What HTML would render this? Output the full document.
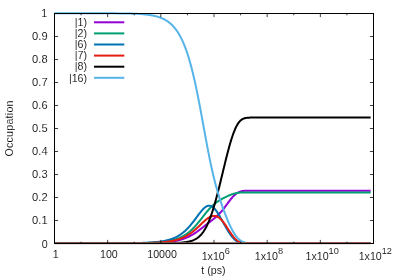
<!DOCTYPE html>
<html><head><meta charset="utf-8"><title>plot</title>
<style>
html,body{margin:0;padding:0;background:#fff;}
svg{display:block;}
text{font-family:"Liberation Sans",sans-serif;font-size:10.67px;fill:#000;stroke:#fff;stroke-width:0.1px;paint-order:fill stroke;}
</style></head><body>
<svg style="will-change:transform" width="399" height="279" viewBox="0 0 399 279">
<rect width="399" height="279" fill="#fff"/>
<clipPath id="cp"><rect x="54" y="12" width="320" height="232"/></clipPath>
<g clip-path="url(#cp)">
<path d="M54.50,243.25 L59.50,243.25 L64.50,243.25 L69.50,243.25 L74.50,243.25 L79.50,243.25 L84.50,243.25 L89.50,243.25 L94.50,243.25 L99.50,243.25 L104.50,243.24 L109.50,243.24 L114.50,243.24 L119.50,243.23 L124.50,243.22 L129.50,243.20 L130.00,243.20 L130.50,243.20 L131.00,243.20 L131.50,243.20 L132.00,243.19 L132.50,243.19 L133.00,243.19 L133.50,243.18 L134.00,243.18 L134.50,243.18 L135.00,243.18 L135.50,243.17 L136.00,243.17 L136.50,243.17 L137.00,243.16 L137.50,243.16 L138.00,243.15 L138.50,243.15 L139.00,243.15 L139.50,243.14 L140.00,243.14 L140.50,243.13 L141.00,243.13 L141.50,243.12 L142.00,243.11 L142.50,243.11 L143.00,243.10 L143.50,243.10 L144.00,243.09 L144.50,243.08 L145.00,243.07 L145.50,243.07 L146.00,243.06 L146.50,243.05 L147.00,243.04 L147.50,243.03 L148.00,243.02 L148.50,243.01 L149.00,243.00 L149.50,242.99 L150.00,242.98 L150.50,242.97 L151.00,242.95 L151.50,242.94 L152.00,242.93 L152.50,242.91 L153.00,242.90 L153.50,242.88 L154.00,242.87 L154.50,242.85 L155.00,242.83 L155.50,242.82 L156.00,242.80 L156.50,242.78 L157.00,242.76 L157.50,242.73 L158.00,242.71 L158.50,242.69 L159.00,242.66 L159.50,242.64 L160.00,242.61 L160.50,242.58 L161.00,242.55 L161.50,242.52 L162.00,242.49 L162.50,242.46 L163.00,242.42 L163.50,242.39 L164.00,242.35 L164.50,242.31 L165.00,242.27 L165.50,242.23 L166.00,242.19 L166.50,242.14 L167.00,242.09 L167.50,242.04 L168.00,241.99 L168.50,241.94 L169.00,241.88 L169.50,241.82 L170.00,241.76 L170.50,241.70 L171.00,241.63 L171.50,241.56 L172.00,241.49 L172.50,241.41 L173.00,241.34 L173.50,241.26 L174.00,241.17 L174.50,241.08 L175.00,240.99 L175.50,240.90 L176.00,240.80 L176.50,240.70 L177.00,240.59 L177.50,240.48 L178.00,240.37 L178.50,240.25 L179.00,240.13 L179.50,240.00 L180.00,239.87 L180.50,239.73 L181.00,239.59 L181.50,239.44 L182.00,239.29 L182.50,239.13 L183.00,238.96 L183.50,238.79 L184.00,238.62 L184.50,238.44 L185.00,238.25 L185.50,238.05 L186.00,237.85 L186.50,237.65 L187.00,237.43 L187.50,237.21 L188.00,236.99 L188.50,236.75 L189.00,236.51 L189.50,236.26 L190.00,236.01 L190.50,235.75 L191.00,235.48 L191.50,235.20 L192.00,234.92 L192.50,234.63 L193.00,234.34 L193.50,234.03 L194.00,233.72 L194.50,233.40 L195.00,233.08 L195.50,232.75 L196.00,232.42 L196.50,232.07 L197.00,231.73 L197.50,231.37 L198.00,231.01 L198.50,230.65 L199.00,230.28 L199.50,229.91 L200.00,229.54 L200.50,229.16 L201.00,228.77 L201.50,228.39 L202.00,228.00 L202.50,227.61 L203.00,227.22 L203.50,226.83 L204.00,226.43 L204.50,226.04 L205.00,225.65 L205.50,225.25 L206.00,224.86 L206.50,224.47 L207.00,224.08 L207.50,223.69 L208.00,223.30 L208.50,222.91 L209.00,222.52 L209.50,222.14 L210.00,221.75 L210.50,221.36 L211.00,220.98 L211.50,220.59 L212.00,220.20 L212.50,219.81 L213.00,219.41 L213.50,219.01 L214.00,218.61 L214.50,218.20 L215.00,217.78 L215.50,217.36 L216.00,216.93 L216.50,216.49 L217.00,216.03 L217.50,215.57 L218.00,215.09 L218.50,214.60 L219.00,214.10 L219.50,213.58 L220.00,213.05 L220.50,212.50 L221.00,211.93 L221.50,211.36 L222.00,210.76 L222.50,210.16 L223.00,209.54 L223.50,208.90 L224.00,208.26 L224.50,207.60 L225.00,206.94 L225.50,206.27 L226.00,205.59 L226.50,204.91 L227.00,204.23 L227.50,203.55 L228.00,202.87 L228.50,202.20 L229.00,201.53 L229.50,200.87 L230.00,200.22 L230.50,199.58 L231.00,198.96 L231.50,198.35 L232.00,197.76 L232.50,197.19 L233.00,196.65 L233.50,196.12 L234.00,195.62 L234.50,195.15 L235.00,194.70 L235.50,194.28 L236.00,193.89 L236.50,193.52 L237.00,193.18 L237.50,192.86 L238.00,192.58 L238.50,192.31 L239.00,192.08 L239.50,191.87 L240.00,191.68 L240.50,191.51 L241.00,191.37 L241.50,191.24 L242.00,191.13 L242.50,191.04 L243.00,190.96 L243.50,190.89 L244.00,190.84 L244.50,190.80 L245.00,190.76 L245.50,190.74 L246.00,190.72 L246.50,190.70 L247.00,190.69 L247.50,190.69 L248.00,190.68 L248.50,190.68 L249.00,190.68 L249.50,190.68 L250.00,190.68 L250.50,190.68 L251.00,190.68 L251.50,190.69 L252.00,190.69 L252.50,190.69 L253.00,190.69 L253.50,190.69 L254.00,190.69 L254.50,190.70 L255.00,190.70 L255.50,190.70 L256.00,190.70 L256.50,190.70 L257.00,190.70 L257.50,190.70 L258.00,190.70 L258.50,190.70 L259.00,190.70 L259.50,190.70 L260.00,190.70 L260.50,190.70 L261.00,190.70 L261.50,190.70 L262.00,190.70 L262.50,190.70 L263.00,190.70 L263.50,190.70 L264.00,190.70 L264.50,190.70 L265.00,190.70 L265.50,190.70 L266.00,190.70 L266.50,190.70 L267.00,190.70 L267.50,190.70 L268.00,190.70 L268.50,190.70 L269.00,190.70 L269.50,190.70 L270.00,190.70 L280.00,190.70 L290.00,190.70 L300.00,190.70 L310.00,190.70 L320.00,190.70 L330.00,190.70 L340.00,190.70 L350.00,190.70 L360.00,190.70 L370.00,190.70 L370.60,190.70" fill="none" stroke="#9400d3" stroke-width="2" stroke-linejoin="round" stroke-linecap="butt"/>
<path d="M54.50,243.25 L59.50,243.25 L64.50,243.25 L69.50,243.25 L74.50,243.25 L79.50,243.25 L84.50,243.25 L89.50,243.25 L94.50,243.25 L99.50,243.24 L104.50,243.24 L109.50,243.24 L114.50,243.23 L119.50,243.22 L124.50,243.20 L129.50,243.17 L130.00,243.17 L130.50,243.17 L131.00,243.16 L131.50,243.16 L132.00,243.16 L132.50,243.15 L133.00,243.15 L133.50,243.14 L134.00,243.14 L134.50,243.13 L135.00,243.13 L135.50,243.12 L136.00,243.12 L136.50,243.11 L137.00,243.10 L137.50,243.10 L138.00,243.09 L138.50,243.08 L139.00,243.08 L139.50,243.07 L140.00,243.06 L140.50,243.05 L141.00,243.04 L141.50,243.04 L142.00,243.03 L142.50,243.02 L143.00,243.01 L143.50,242.99 L144.00,242.98 L144.50,242.97 L145.00,242.96 L145.50,242.95 L146.00,242.93 L146.50,242.92 L147.00,242.90 L147.50,242.89 L148.00,242.87 L148.50,242.86 L149.00,242.84 L149.50,242.82 L150.00,242.80 L150.50,242.78 L151.00,242.76 L151.50,242.74 L152.00,242.72 L152.50,242.70 L153.00,242.67 L153.50,242.65 L154.00,242.62 L154.50,242.59 L155.00,242.56 L155.50,242.53 L156.00,242.50 L156.50,242.47 L157.00,242.43 L157.50,242.40 L158.00,242.36 L158.50,242.32 L159.00,242.28 L159.50,242.24 L160.00,242.20 L160.50,242.15 L161.00,242.10 L161.50,242.05 L162.00,242.00 L162.50,241.95 L163.00,241.89 L163.50,241.83 L164.00,241.77 L164.50,241.70 L165.00,241.64 L165.50,241.57 L166.00,241.49 L166.50,241.42 L167.00,241.34 L167.50,241.26 L168.00,241.17 L168.50,241.08 L169.00,240.99 L169.50,240.89 L170.00,240.79 L170.50,240.69 L171.00,240.58 L171.50,240.46 L172.00,240.34 L172.50,240.22 L173.00,240.09 L173.50,239.96 L174.00,239.82 L174.50,239.67 L175.00,239.52 L175.50,239.37 L176.00,239.20 L176.50,239.04 L177.00,238.86 L177.50,238.68 L178.00,238.49 L178.50,238.29 L179.00,238.09 L179.50,237.88 L180.00,237.66 L180.50,237.43 L181.00,237.19 L181.50,236.95 L182.00,236.69 L182.50,236.43 L183.00,236.16 L183.50,235.88 L184.00,235.58 L184.50,235.28 L185.00,234.97 L185.50,234.65 L186.00,234.31 L186.50,233.97 L187.00,233.61 L187.50,233.25 L188.00,232.87 L188.50,232.48 L189.00,232.08 L189.50,231.67 L190.00,231.24 L190.50,230.81 L191.00,230.36 L191.50,229.90 L192.00,229.43 L192.50,228.94 L193.00,228.45 L193.50,227.94 L194.00,227.42 L194.50,226.89 L195.00,226.35 L195.50,225.80 L196.00,225.24 L196.50,224.67 L197.00,224.09 L197.50,223.50 L198.00,222.90 L198.50,222.29 L199.00,221.68 L199.50,221.06 L200.00,220.43 L200.50,219.80 L201.00,219.17 L201.50,218.53 L202.00,217.89 L202.50,217.25 L203.00,216.61 L203.50,215.97 L204.00,215.33 L204.50,214.70 L205.00,214.07 L205.50,213.44 L206.00,212.82 L206.50,212.20 L207.00,211.60 L207.50,211.00 L208.00,210.41 L208.50,209.84 L209.00,209.27 L209.50,208.72 L210.00,208.18 L210.50,207.65 L211.00,207.14 L211.50,206.64 L212.00,206.15 L212.50,205.68 L213.00,205.22 L213.50,204.78 L214.00,204.35 L214.50,203.94 L215.00,203.53 L215.50,203.14 L216.00,202.76 L216.50,202.40 L217.00,202.04 L217.50,201.70 L218.00,201.36 L218.50,201.03 L219.00,200.72 L219.50,200.40 L220.00,200.10 L220.50,199.80 L221.00,199.51 L221.50,199.22 L222.00,198.94 L222.50,198.66 L223.00,198.39 L223.50,198.12 L224.00,197.86 L224.50,197.60 L225.00,197.34 L225.50,197.09 L226.00,196.84 L226.50,196.60 L227.00,196.36 L227.50,196.13 L228.00,195.90 L228.50,195.68 L229.00,195.46 L229.50,195.25 L230.00,195.05 L230.50,194.85 L231.00,194.66 L231.50,194.48 L232.00,194.30 L232.50,194.13 L233.00,193.97 L233.50,193.82 L234.00,193.67 L234.50,193.54 L235.00,193.41 L235.50,193.29 L236.00,193.18 L236.50,193.08 L237.00,192.99 L237.50,192.91 L238.00,192.83 L238.50,192.77 L239.00,192.71 L239.50,192.65 L240.00,192.61 L240.50,192.57 L241.00,192.54 L241.50,192.51 L242.00,192.49 L242.50,192.47 L243.00,192.46 L243.50,192.45 L244.00,192.44 L244.50,192.44 L245.00,192.44 L245.50,192.44 L246.00,192.44 L246.50,192.44 L247.00,192.45 L247.50,192.45 L248.00,192.45 L248.50,192.46 L249.00,192.46 L249.50,192.47 L250.00,192.47 L250.50,192.48 L251.00,192.48 L251.50,192.48 L252.00,192.49 L252.50,192.49 L253.00,192.49 L253.50,192.49 L254.00,192.49 L254.50,192.50 L255.00,192.50 L255.50,192.50 L256.00,192.50 L256.50,192.50 L257.00,192.50 L257.50,192.50 L258.00,192.50 L258.50,192.50 L259.00,192.50 L259.50,192.50 L260.00,192.50 L260.50,192.50 L261.00,192.50 L261.50,192.50 L262.00,192.50 L262.50,192.50 L263.00,192.50 L263.50,192.50 L264.00,192.50 L264.50,192.50 L265.00,192.50 L265.50,192.50 L266.00,192.50 L266.50,192.50 L267.00,192.50 L267.50,192.50 L268.00,192.50 L268.50,192.50 L269.00,192.50 L269.50,192.50 L270.00,192.50 L280.00,192.50 L290.00,192.50 L300.00,192.50 L310.00,192.50 L320.00,192.50 L330.00,192.50 L340.00,192.50 L350.00,192.50 L360.00,192.50 L370.00,192.50 L370.60,192.50" fill="none" stroke="#009e73" stroke-width="2" stroke-linejoin="round" stroke-linecap="butt"/>
<path d="M54.50,243.25 L59.50,243.25 L64.50,243.25 L69.50,243.25 L74.50,243.25 L79.50,243.25 L84.50,243.25 L89.50,243.25 L94.50,243.24 L99.50,243.24 L104.50,243.24 L109.50,243.23 L114.50,243.22 L119.50,243.20 L124.50,243.17 L129.50,243.13 L130.00,243.13 L130.50,243.12 L131.00,243.12 L131.50,243.11 L132.00,243.10 L132.50,243.10 L133.00,243.09 L133.50,243.08 L134.00,243.08 L134.50,243.07 L135.00,243.06 L135.50,243.05 L136.00,243.04 L136.50,243.04 L137.00,243.03 L137.50,243.02 L138.00,243.01 L138.50,243.00 L139.00,242.98 L139.50,242.97 L140.00,242.96 L140.50,242.95 L141.00,242.93 L141.50,242.92 L142.00,242.91 L142.50,242.89 L143.00,242.87 L143.50,242.86 L144.00,242.84 L144.50,242.82 L145.00,242.80 L145.50,242.78 L146.00,242.76 L146.50,242.74 L147.00,242.72 L147.50,242.70 L148.00,242.67 L148.50,242.65 L149.00,242.62 L149.50,242.59 L150.00,242.56 L150.50,242.53 L151.00,242.50 L151.50,242.47 L152.00,242.43 L152.50,242.40 L153.00,242.36 L153.50,242.32 L154.00,242.28 L154.50,242.24 L155.00,242.20 L155.50,242.15 L156.00,242.10 L156.50,242.05 L157.00,242.00 L157.50,241.94 L158.00,241.89 L158.50,241.83 L159.00,241.77 L159.50,241.70 L160.00,241.63 L160.50,241.56 L161.00,241.49 L161.50,241.41 L162.00,241.33 L162.50,241.25 L163.00,241.17 L163.50,241.08 L164.00,240.98 L164.50,240.88 L165.00,240.78 L165.50,240.68 L166.00,240.57 L166.50,240.45 L167.00,240.33 L167.50,240.21 L168.00,240.08 L168.50,239.94 L169.00,239.80 L169.50,239.65 L170.00,239.50 L170.50,239.34 L171.00,239.18 L171.50,239.01 L172.00,238.83 L172.50,238.64 L173.00,238.45 L173.50,238.25 L174.00,238.04 L174.50,237.82 L175.00,237.60 L175.50,237.37 L176.00,237.12 L176.50,236.87 L177.00,236.61 L177.50,236.34 L178.00,236.06 L178.50,235.77 L179.00,235.47 L179.50,235.16 L180.00,234.84 L180.50,234.50 L181.00,234.16 L181.50,233.80 L182.00,233.43 L182.50,233.05 L183.00,232.66 L183.50,232.25 L184.00,231.83 L184.50,231.40 L185.00,230.96 L185.50,230.50 L186.00,230.03 L186.50,229.54 L187.00,229.05 L187.50,228.53 L188.00,228.01 L188.50,227.47 L189.00,226.92 L189.50,226.36 L190.00,225.78 L190.50,225.20 L191.00,224.60 L191.50,223.99 L192.00,223.36 L192.50,222.73 L193.00,222.09 L193.50,221.44 L194.00,220.79 L194.50,220.12 L195.00,219.45 L195.50,218.78 L196.00,218.10 L196.50,217.42 L197.00,216.74 L197.50,216.06 L198.00,215.39 L198.50,214.72 L199.00,214.06 L199.50,213.40 L200.00,212.76 L200.50,212.12 L201.00,211.51 L201.50,210.91 L202.00,210.33 L202.50,209.77 L203.00,209.24 L203.50,208.74 L204.00,208.27 L204.50,207.82 L205.00,207.42 L205.50,207.05 L206.00,206.72 L206.50,206.43 L207.00,206.19 L207.50,205.99 L208.00,205.84 L208.50,205.74 L209.00,205.69 L209.50,205.70 L210.00,205.75 L210.50,205.86 L211.00,206.02 L211.50,206.24 L212.00,206.51 L212.50,206.83 L213.00,207.21 L213.50,207.63 L214.00,208.10 L214.50,208.63 L215.00,209.19 L215.50,209.80 L216.00,210.45 L216.50,211.14 L217.00,211.86 L217.50,212.61 L218.00,213.40 L218.50,214.20 L219.00,215.03 L219.50,215.88 L220.00,216.75 L220.50,217.63 L221.00,218.52 L221.50,219.42 L222.00,220.33 L222.50,221.24 L223.00,222.15 L223.50,223.05 L224.00,223.96 L224.50,224.86 L225.00,225.75 L225.50,226.63 L226.00,227.51 L226.50,228.37 L227.00,229.22 L227.50,230.05 L228.00,230.87 L228.50,231.66 L229.00,232.44 L229.50,233.20 L230.00,233.94 L230.50,234.66 L231.00,235.35 L231.50,236.02 L232.00,236.65 L232.50,237.27 L233.00,237.85 L233.50,238.40 L234.00,238.93 L234.50,239.42 L235.00,239.88 L235.50,240.31 L236.00,240.71 L236.50,241.08 L237.00,241.42 L237.50,241.72 L238.00,242.00 L238.50,242.25 L239.00,242.47 L239.50,242.66 L240.00,242.82 L240.50,242.97 L241.00,243.09 L241.50,243.19 L242.00,243.25 L242.50,243.25 L243.00,243.25 L243.50,243.25 L244.00,243.25 L244.50,243.25 L245.00,243.25 L245.50,243.25 L246.00,243.25 L246.50,243.25 L247.00,243.25 L247.50,243.25 L248.00,243.25 L248.50,243.25 L249.00,243.25 L249.50,243.25 L250.00,243.25 L250.50,243.25 L251.00,243.25 L251.50,243.25 L252.00,243.25 L252.50,243.25 L253.00,243.25 L253.50,243.25 L254.00,243.25 L254.50,243.25 L255.00,243.25 L255.50,243.25 L256.00,243.25 L256.50,243.25 L257.00,243.25 L257.50,243.25 L258.00,243.25 L258.50,243.25 L259.00,243.25 L259.50,243.25 L260.00,243.25 L260.50,243.25 L261.00,243.25 L261.50,243.25 L262.00,243.25 L262.50,243.25 L263.00,243.25 L263.50,243.25 L264.00,243.25 L264.50,243.25 L265.00,243.25 L265.50,243.25 L266.00,243.25 L266.50,243.25 L267.00,243.25 L267.50,243.25 L268.00,243.25 L268.50,243.25 L269.00,243.25 L269.50,243.25 L270.00,243.25 L280.00,243.25 L290.00,243.25 L300.00,243.25 L310.00,243.25 L320.00,243.25 L330.00,243.25 L340.00,243.25 L350.00,243.25 L360.00,243.25 L370.00,243.25 L370.60,243.25" fill="none" stroke="#0072b2" stroke-width="2" stroke-linejoin="round" stroke-linecap="butt"/>
<path d="M54.50,243.25 L59.50,243.25 L64.50,243.25 L69.50,243.25 L74.50,243.25 L79.50,243.25 L84.50,243.25 L89.50,243.25 L94.50,243.25 L99.50,243.25 L104.50,243.24 L109.50,243.24 L114.50,243.23 L119.50,243.22 L124.50,243.21 L129.50,243.19 L130.00,243.19 L130.50,243.18 L131.00,243.18 L131.50,243.18 L132.00,243.17 L132.50,243.17 L133.00,243.17 L133.50,243.16 L134.00,243.16 L134.50,243.16 L135.00,243.15 L135.50,243.15 L136.00,243.14 L136.50,243.14 L137.00,243.13 L137.50,243.13 L138.00,243.12 L138.50,243.12 L139.00,243.11 L139.50,243.11 L140.00,243.10 L140.50,243.09 L141.00,243.09 L141.50,243.08 L142.00,243.07 L142.50,243.06 L143.00,243.06 L143.50,243.05 L144.00,243.04 L144.50,243.03 L145.00,243.02 L145.50,243.01 L146.00,243.00 L146.50,242.99 L147.00,242.97 L147.50,242.96 L148.00,242.95 L148.50,242.94 L149.00,242.92 L149.50,242.91 L150.00,242.89 L150.50,242.88 L151.00,242.86 L151.50,242.84 L152.00,242.83 L152.50,242.81 L153.00,242.79 L153.50,242.77 L154.00,242.75 L154.50,242.73 L155.00,242.70 L155.50,242.68 L156.00,242.65 L156.50,242.63 L157.00,242.60 L157.50,242.57 L158.00,242.54 L158.50,242.51 L159.00,242.48 L159.50,242.44 L160.00,242.41 L160.50,242.37 L161.00,242.33 L161.50,242.29 L162.00,242.25 L162.50,242.21 L163.00,242.16 L163.50,242.12 L164.00,242.07 L164.50,242.02 L165.00,241.96 L165.50,241.91 L166.00,241.85 L166.50,241.79 L167.00,241.73 L167.50,241.66 L168.00,241.59 L168.50,241.52 L169.00,241.45 L169.50,241.37 L170.00,241.29 L170.50,241.20 L171.00,241.12 L171.50,241.03 L172.00,240.93 L172.50,240.83 L173.00,240.73 L173.50,240.62 L174.00,240.51 L174.50,240.40 L175.00,240.28 L175.50,240.15 L176.00,240.02 L176.50,239.89 L177.00,239.75 L177.50,239.60 L178.00,239.45 L178.50,239.30 L179.00,239.13 L179.50,238.96 L180.00,238.79 L180.50,238.61 L181.00,238.42 L181.50,238.22 L182.00,238.02 L182.50,237.81 L183.00,237.59 L183.50,237.37 L184.00,237.14 L184.50,236.90 L185.00,236.65 L185.50,236.39 L186.00,236.12 L186.50,235.85 L187.00,235.57 L187.50,235.28 L188.00,234.98 L188.50,234.67 L189.00,234.35 L189.50,234.02 L190.00,233.68 L190.50,233.34 L191.00,232.98 L191.50,232.62 L192.00,232.24 L192.50,231.86 L193.00,231.47 L193.50,231.07 L194.00,230.66 L194.50,230.24 L195.00,229.81 L195.50,229.38 L196.00,228.94 L196.50,228.49 L197.00,228.04 L197.50,227.58 L198.00,227.12 L198.50,226.65 L199.00,226.17 L199.50,225.70 L200.00,225.22 L200.50,224.74 L201.00,224.26 L201.50,223.78 L202.00,223.30 L202.50,222.82 L203.00,222.35 L203.50,221.89 L204.00,221.43 L204.50,220.97 L205.00,220.53 L205.50,220.10 L206.00,219.68 L206.50,219.28 L207.00,218.89 L207.50,218.51 L208.00,218.16 L208.50,217.82 L209.00,217.51 L209.50,217.22 L210.00,216.95 L210.50,216.71 L211.00,216.50 L211.50,216.32 L212.00,216.16 L212.50,216.04 L213.00,215.95 L213.50,215.89 L214.00,215.87 L214.50,215.88 L215.00,215.93 L215.50,216.02 L216.00,216.14 L216.50,216.30 L217.00,216.50 L217.50,216.73 L218.00,217.01 L218.50,217.32 L219.00,217.67 L219.50,218.05 L220.00,218.48 L220.50,218.93 L221.00,219.43 L221.50,219.95 L222.00,220.51 L222.50,221.10 L223.00,221.71 L223.50,222.36 L224.00,223.02 L224.50,223.71 L225.00,224.43 L225.50,225.15 L226.00,225.90 L226.50,226.65 L227.00,227.42 L227.50,228.19 L228.00,228.96 L228.50,229.73 L229.00,230.51 L229.50,231.27 L230.00,232.03 L230.50,232.77 L231.00,233.50 L231.50,234.21 L232.00,234.90 L232.50,235.57 L233.00,236.22 L233.50,236.84 L234.00,237.43 L234.50,237.99 L235.00,238.52 L235.50,239.02 L236.00,239.49 L236.50,239.93 L237.00,240.33 L237.50,240.71 L238.00,241.05 L238.50,241.36 L239.00,241.64 L239.50,241.89 L240.00,242.11 L240.50,242.31 L241.00,242.48 L241.50,242.63 L242.00,242.76 L242.50,242.87 L243.00,242.96 L243.50,243.04 L244.00,243.10 L244.50,243.15 L245.00,243.19 L245.50,243.22 L246.00,243.24 L246.50,243.25 L247.00,243.25 L247.50,243.25 L248.00,243.25 L248.50,243.25 L249.00,243.25 L249.50,243.25 L250.00,243.25 L250.50,243.25 L251.00,243.25 L251.50,243.25 L252.00,243.25 L252.50,243.25 L253.00,243.25 L253.50,243.25 L254.00,243.25 L254.50,243.25 L255.00,243.25 L255.50,243.25 L256.00,243.25 L256.50,243.25 L257.00,243.25 L257.50,243.25 L258.00,243.25 L258.50,243.25 L259.00,243.25 L259.50,243.25 L260.00,243.25 L260.50,243.25 L261.00,243.25 L261.50,243.25 L262.00,243.25 L262.50,243.25 L263.00,243.25 L263.50,243.25 L264.00,243.25 L264.50,243.25 L265.00,243.25 L265.50,243.25 L266.00,243.25 L266.50,243.25 L267.00,243.25 L267.50,243.25 L268.00,243.25 L268.50,243.25 L269.00,243.25 L269.50,243.25 L270.00,243.25 L280.00,243.25 L290.00,243.25 L300.00,243.25 L310.00,243.25 L320.00,243.25 L330.00,243.25 L340.00,243.25 L350.00,243.25 L360.00,243.25 L370.00,243.25 L370.60,243.25" fill="none" stroke="#e51e10" stroke-width="2" stroke-linejoin="round" stroke-linecap="butt"/>
<path d="M54.50,243.25 L59.50,243.25 L64.50,243.25 L69.50,243.25 L74.50,243.25 L79.50,243.25 L84.50,243.25 L89.50,243.25 L94.50,243.25 L99.50,243.25 L104.50,243.25 L109.50,243.25 L114.50,243.25 L119.50,243.25 L124.50,243.25 L129.50,243.25 L130.00,243.25 L130.50,243.25 L131.00,243.25 L131.50,243.25 L132.00,243.25 L132.50,243.25 L133.00,243.25 L133.50,243.24 L134.00,243.24 L134.50,243.24 L135.00,243.24 L135.50,243.24 L136.00,243.24 L136.50,243.24 L137.00,243.24 L137.50,243.24 L138.00,243.24 L138.50,243.24 L139.00,243.24 L139.50,243.24 L140.00,243.24 L140.50,243.24 L141.00,243.24 L141.50,243.24 L142.00,243.24 L142.50,243.24 L143.00,243.24 L143.50,243.24 L144.00,243.24 L144.50,243.24 L145.00,243.24 L145.50,243.24 L146.00,243.23 L146.50,243.23 L147.00,243.23 L147.50,243.23 L148.00,243.23 L148.50,243.23 L149.00,243.23 L149.50,243.23 L150.00,243.23 L150.50,243.23 L151.00,243.23 L151.50,243.22 L152.00,243.22 L152.50,243.22 L153.00,243.22 L153.50,243.22 L154.00,243.22 L154.50,243.22 L155.00,243.21 L155.50,243.21 L156.00,243.21 L156.50,243.21 L157.00,243.21 L157.50,243.21 L158.00,243.20 L158.50,243.20 L159.00,243.20 L159.50,243.20 L160.00,243.19 L160.50,243.19 L161.00,243.19 L161.50,243.18 L162.00,243.18 L162.50,243.18 L163.00,243.17 L163.50,243.17 L164.00,243.16 L164.50,243.16 L165.00,243.15 L165.50,243.15 L166.00,243.14 L166.50,243.14 L167.00,243.13 L167.50,243.13 L168.00,243.12 L168.50,243.11 L169.00,243.10 L169.50,243.10 L170.00,243.09 L170.50,243.08 L171.00,243.07 L171.50,243.06 L172.00,243.05 L172.50,243.03 L173.00,243.02 L173.50,243.01 L174.00,242.99 L174.50,242.98 L175.00,242.96 L175.50,242.94 L176.00,242.93 L176.50,242.91 L177.00,242.88 L177.50,242.86 L178.00,242.84 L178.50,242.81 L179.00,242.78 L179.50,242.75 L180.00,242.72 L180.50,242.69 L181.00,242.65 L181.50,242.61 L182.00,242.57 L182.50,242.52 L183.00,242.47 L183.50,242.42 L184.00,242.37 L184.50,242.31 L185.00,242.24 L185.50,242.18 L186.00,242.10 L186.50,242.02 L187.00,241.94 L187.50,241.85 L188.00,241.75 L188.50,241.65 L189.00,241.54 L189.50,241.42 L190.00,241.29 L190.50,241.16 L191.00,241.01 L191.50,240.85 L192.00,240.68 L192.50,240.51 L193.00,240.31 L193.50,240.11 L194.00,239.89 L194.50,239.65 L195.00,239.40 L195.50,239.13 L196.00,238.85 L196.50,238.54 L197.00,238.22 L197.50,237.87 L198.00,237.50 L198.50,237.10 L199.00,236.69 L199.50,236.24 L200.00,235.77 L200.50,235.26 L201.00,234.73 L201.50,234.17 L202.00,233.57 L202.50,232.93 L203.00,232.26 L203.50,231.56 L204.00,230.81 L204.50,230.03 L205.00,229.20 L205.50,228.33 L206.00,227.42 L206.50,226.46 L207.00,225.45 L207.50,224.40 L208.00,223.30 L208.50,222.16 L209.00,220.96 L209.50,219.72 L210.00,218.43 L210.50,217.09 L211.00,215.70 L211.50,214.26 L212.00,212.78 L212.50,211.24 L213.00,209.67 L213.50,208.04 L214.00,206.38 L214.50,204.67 L215.00,202.92 L215.50,201.13 L216.00,199.31 L216.50,197.45 L217.00,195.56 L217.50,193.64 L218.00,191.70 L218.50,189.73 L219.00,187.74 L219.50,185.72 L220.00,183.70 L220.50,181.66 L221.00,179.60 L221.50,177.54 L222.00,175.48 L222.50,173.41 L223.00,171.34 L223.50,169.28 L224.00,167.22 L224.50,165.17 L225.00,163.13 L225.50,161.11 L226.00,159.10 L226.50,157.11 L227.00,155.15 L227.50,153.21 L228.00,151.31 L228.50,149.43 L229.00,147.59 L229.50,145.79 L230.00,144.03 L230.50,142.32 L231.00,140.65 L231.50,139.03 L232.00,137.47 L232.50,135.96 L233.00,134.51 L233.50,133.13 L234.00,131.80 L234.50,130.54 L235.00,129.35 L235.50,128.22 L236.00,127.16 L236.50,126.17 L237.00,125.24 L237.50,124.39 L238.00,123.60 L238.50,122.87 L239.00,122.21 L239.50,121.61 L240.00,121.07 L240.50,120.58 L241.00,120.15 L241.50,119.76 L242.00,119.43 L242.50,119.13 L243.00,118.88 L243.50,118.65 L244.00,118.47 L244.50,118.30 L245.00,118.17 L245.50,118.05 L246.00,117.96 L246.50,117.88 L247.00,117.82 L247.50,117.77 L248.00,117.72 L248.50,117.69 L249.00,117.66 L249.50,117.64 L250.00,117.62 L250.50,117.61 L251.00,117.59 L251.50,117.58 L252.00,117.58 L252.50,117.57 L253.00,117.57 L253.50,117.56 L254.00,117.56 L254.50,117.56 L255.00,117.56 L255.50,117.55 L256.00,117.55 L256.50,117.55 L257.00,117.55 L257.50,117.55 L258.00,117.55 L258.50,117.55 L259.00,117.55 L259.50,117.55 L260.00,117.55 L260.50,117.55 L261.00,117.55 L261.50,117.55 L262.00,117.55 L262.50,117.55 L263.00,117.55 L263.50,117.55 L264.00,117.55 L264.50,117.55 L265.00,117.55 L265.50,117.55 L266.00,117.55 L266.50,117.55 L267.00,117.55 L267.50,117.55 L268.00,117.55 L268.50,117.55 L269.00,117.55 L269.50,117.55 L270.00,117.55 L280.00,117.55 L290.00,117.55 L300.00,117.55 L310.00,117.55 L320.00,117.55 L330.00,117.55 L340.00,117.55 L350.00,117.55 L360.00,117.55 L370.00,117.55 L370.60,117.55" fill="none" stroke="#000000" stroke-width="2" stroke-linejoin="round" stroke-linecap="butt"/>
<path d="M54.50,13.25 L59.50,13.25 L64.50,13.25 L69.50,13.25 L74.50,13.25 L79.50,13.25 L84.50,13.26 L89.50,13.26 L94.50,13.26 L99.50,13.27 L104.50,13.29 L109.50,13.30 L114.50,13.33 L119.50,13.38 L124.50,13.45 L129.50,13.56 L130.00,13.57 L130.50,13.59 L131.00,13.60 L131.50,13.62 L132.00,13.63 L132.50,13.65 L133.00,13.67 L133.50,13.68 L134.00,13.70 L134.50,13.72 L135.00,13.75 L135.50,13.77 L136.00,13.79 L136.50,13.81 L137.00,13.84 L137.50,13.86 L138.00,13.89 L138.50,13.92 L139.00,13.95 L139.50,13.98 L140.00,14.01 L140.50,14.05 L141.00,14.08 L141.50,14.12 L142.00,14.16 L142.50,14.20 L143.00,14.24 L143.50,14.28 L144.00,14.33 L144.50,14.38 L145.00,14.42 L145.50,14.48 L146.00,14.53 L146.50,14.59 L147.00,14.65 L147.50,14.71 L148.00,14.77 L148.50,14.84 L149.00,14.91 L149.50,14.98 L150.00,15.06 L150.50,15.14 L151.00,15.22 L151.50,15.31 L152.00,15.40 L152.50,15.49 L153.00,15.59 L153.50,15.69 L154.00,15.80 L154.50,15.91 L155.00,16.03 L155.50,16.15 L156.00,16.28 L156.50,16.41 L157.00,16.55 L157.50,16.69 L158.00,16.84 L158.50,17.00 L159.00,17.17 L159.50,17.34 L160.00,17.52 L160.50,17.70 L161.00,17.90 L161.50,18.10 L162.00,18.31 L162.50,18.53 L163.00,18.76 L163.50,19.00 L164.00,19.25 L164.50,19.51 L165.00,19.78 L165.50,20.06 L166.00,20.36 L166.50,20.67 L167.00,20.99 L167.50,21.32 L168.00,21.67 L168.50,22.03 L169.00,22.41 L169.50,22.80 L170.00,23.21 L170.50,23.64 L171.00,24.08 L171.50,24.54 L172.00,25.02 L172.50,25.52 L173.00,26.04 L173.50,26.59 L174.00,27.15 L174.50,27.74 L175.00,28.35 L175.50,28.98 L176.00,29.64 L176.50,30.33 L177.00,31.04 L177.50,31.78 L178.00,32.55 L178.50,33.35 L179.00,34.18 L179.50,35.04 L180.00,35.94 L180.50,36.87 L181.00,37.83 L181.50,38.83 L182.00,39.86 L182.50,40.93 L183.00,42.04 L183.50,43.19 L184.00,44.39 L184.50,45.62 L185.00,46.89 L185.50,48.21 L186.00,49.57 L186.50,50.98 L187.00,52.43 L187.50,53.93 L188.00,55.48 L188.50,57.07 L189.00,58.72 L189.50,60.41 L190.00,62.15 L190.50,63.95 L191.00,65.79 L191.50,67.68 L192.00,69.63 L192.50,71.62 L193.00,73.67 L193.50,75.76 L194.00,77.91 L194.50,80.10 L195.00,82.34 L195.50,84.63 L196.00,86.96 L196.50,89.34 L197.00,91.76 L197.50,94.22 L198.00,96.72 L198.50,99.26 L199.00,101.83 L199.50,104.43 L200.00,107.06 L200.50,109.72 L201.00,112.41 L201.50,115.11 L202.00,117.83 L202.50,120.56 L203.00,123.30 L203.50,126.04 L204.00,128.79 L204.50,131.53 L205.00,134.27 L205.50,136.99 L206.00,139.70 L206.50,142.39 L207.00,145.06 L207.50,147.70 L208.00,150.31 L208.50,152.88 L209.00,155.42 L209.50,157.92 L210.00,160.37 L210.50,162.78 L211.00,165.14 L211.50,167.45 L212.00,169.72 L212.50,171.93 L213.00,174.09 L213.50,176.20 L214.00,178.26 L214.50,180.26 L215.00,182.22 L215.50,184.13 L216.00,185.99 L216.50,187.81 L217.00,189.59 L217.50,191.32 L218.00,193.01 L218.50,194.67 L219.00,196.29 L219.50,197.88 L220.00,199.44 L220.50,200.97 L221.00,202.47 L221.50,203.94 L222.00,205.40 L222.50,206.82 L223.00,208.23 L223.50,209.61 L224.00,210.97 L224.50,212.31 L225.00,213.63 L225.50,214.92 L226.00,216.20 L226.50,217.45 L227.00,218.68 L227.50,219.89 L228.00,221.07 L228.50,222.23 L229.00,223.37 L229.50,224.48 L230.00,225.56 L230.50,226.61 L231.00,227.63 L231.50,228.63 L232.00,229.59 L232.50,230.52 L233.00,231.41 L233.50,232.28 L234.00,233.10 L234.50,233.89 L235.00,234.65 L235.50,235.36 L236.00,236.04 L236.50,236.68 L237.00,237.28 L237.50,237.85 L238.00,238.37 L238.50,238.86 L239.00,239.31 L239.50,239.73 L240.00,240.11 L240.50,240.46 L241.00,240.78 L241.50,241.07 L242.00,241.33 L242.50,241.57 L243.00,241.78 L243.50,241.97 L244.00,242.13 L244.50,242.28 L245.00,242.41 L245.50,242.53" fill="none" stroke="#56b4e9" stroke-width="2" stroke-linejoin="round" stroke-linecap="butt"/>
<path d="M55,242.5 H370.6" stroke="rgb(135,96,86)" stroke-width="1" opacity="0.85" fill="none"/>
</g>
<path d="M55,244.5 H370.6" stroke="rgb(110,95,90)" stroke-width="1" opacity="0.2" fill="none"/>
<path d="M94,22.30 H124.3" stroke="#9400d3" stroke-width="2" fill="none"/>
<path d="M94,33.40 H124.3" stroke="#009e73" stroke-width="2" fill="none"/>
<path d="M94,44.50 H124.3" stroke="#0072b2" stroke-width="2" fill="none"/>
<path d="M94,55.60 H124.3" stroke="#e51e10" stroke-width="2" fill="none"/>
<path d="M94,66.70 H124.3" stroke="#000000" stroke-width="2" fill="none"/>
<path d="M94,77.80 H124.3" stroke="#56b4e9" stroke-width="2" fill="none"/>
<rect x="54.5" y="13.5" width="319.0" height="230.0" fill="none" stroke="#000" stroke-width="1"/>
<path d="M81.08,243.50 v-1.80 M81.08,13.50 v1.80 M107.67,243.50 v-3.60 M107.67,13.50 v3.60 M134.25,243.50 v-1.80 M134.25,13.50 v1.80 M160.83,243.50 v-3.60 M160.83,13.50 v3.60 M187.42,243.50 v-1.80 M187.42,13.50 v1.80 M214.00,243.50 v-3.60 M214.00,13.50 v3.60 M240.58,243.50 v-1.80 M240.58,13.50 v1.80 M267.17,243.50 v-3.60 M267.17,13.50 v3.60 M293.75,243.50 v-1.80 M293.75,13.50 v1.80 M320.33,243.50 v-3.60 M320.33,13.50 v3.60 M346.92,243.50 v-1.80 M346.92,13.50 v1.80 M54.50,220.50 h3.6 M373.50,220.50 h-3.6 M54.50,197.50 h3.6 M373.50,197.50 h-3.6 M54.50,174.50 h3.6 M373.50,174.50 h-3.6 M54.50,151.50 h3.6 M373.50,151.50 h-3.6 M54.50,128.50 h3.6 M373.50,128.50 h-3.6 M54.50,105.50 h3.6 M373.50,105.50 h-3.6 M54.50,82.50 h3.6 M373.50,82.50 h-3.6 M54.50,59.50 h3.6 M373.50,59.50 h-3.6 M54.50,36.50 h3.6 M373.50,36.50 h-3.6" stroke="#000" stroke-opacity="0.75" stroke-width="1" fill="none"/>
<g id="txt" style="filter:grayscale(1)">
<text x="47.6" y="247.80" text-anchor="end">0</text>
<text x="32.1" y="224.10" textLength="15.5" lengthAdjust="spacingAndGlyphs">0.1</text>
<text x="32.1" y="201.10" textLength="15.5" lengthAdjust="spacingAndGlyphs">0.2</text>
<text x="32.1" y="178.10" textLength="15.5" lengthAdjust="spacingAndGlyphs">0.3</text>
<text x="32.1" y="155.10" textLength="15.5" lengthAdjust="spacingAndGlyphs">0.4</text>
<text x="32.1" y="132.10" textLength="15.5" lengthAdjust="spacingAndGlyphs">0.5</text>
<text x="32.1" y="109.10" textLength="15.5" lengthAdjust="spacingAndGlyphs">0.6</text>
<text x="32.1" y="86.10" textLength="15.5" lengthAdjust="spacingAndGlyphs">0.7</text>
<text x="32.1" y="63.10" textLength="15.5" lengthAdjust="spacingAndGlyphs">0.8</text>
<text x="32.1" y="40.10" textLength="15.5" lengthAdjust="spacingAndGlyphs">0.9</text>
<text x="47.3" y="17.10" text-anchor="end">1</text>
<text x="55.70" y="258.2" text-anchor="middle">1</text>
<text x="108.87" y="258.2" text-anchor="middle">100</text>
<text x="162.03" y="258.2" text-anchor="middle">10000</text>
<text x="215.80" y="259.8" text-anchor="middle">1x10<tspan dy="-5.8" font-size="9.2">6</tspan></text>
<text x="268.97" y="259.8" text-anchor="middle">1x10<tspan dy="-5.8" font-size="9.2">8</tspan></text>
<text x="322.13" y="259.8" text-anchor="middle">1x10<tspan dy="-5.8" font-size="9.2">10</tspan></text>
<text x="375.30" y="259.8" text-anchor="middle">1x10<tspan dy="-5.8" font-size="9.2">12</tspan></text>
<text x="213.5" y="274.3" text-anchor="middle">t (ps)</text>
<text transform="translate(12.6,128.5) rotate(-90)" text-anchor="middle" textLength="56" lengthAdjust="spacing">Occupation</text>
<text x="87.1" y="26.00" text-anchor="end">|1)</text>
<text x="87.1" y="37.10" text-anchor="end">|2)</text>
<text x="87.1" y="48.20" text-anchor="end">|6)</text>
<text x="87.1" y="59.30" text-anchor="end">|7)</text>
<text x="87.1" y="70.40" text-anchor="end">|8)</text>
<text x="87.1" y="81.50" text-anchor="end">|16)</text>
</g>
</svg>
</body></html>
